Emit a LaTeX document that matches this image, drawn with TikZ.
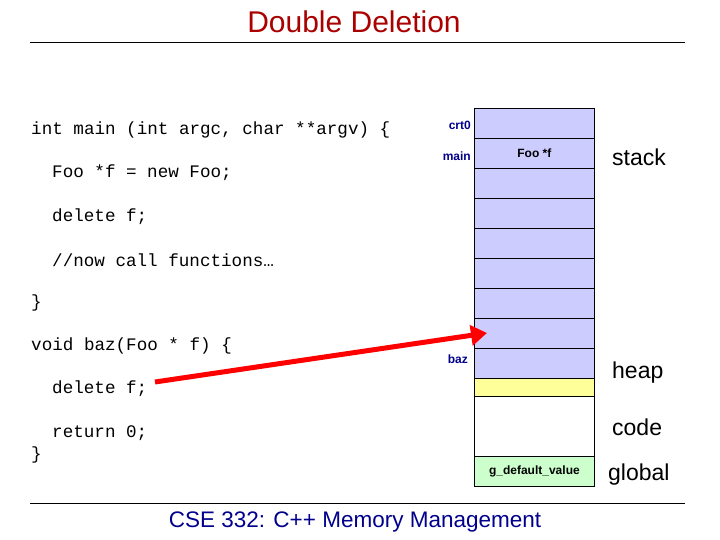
\documentclass[tikz,border=0pt]{standalone}
\usepackage{fontspec}
\usetikzlibrary{arrows.meta}
\setmainfont{Liberation Sans}
\newfontfamily\cour{Liberation Mono}
\definecolor{stk}{RGB}{204,204,255}
\definecolor{hp}{RGB}{255,255,153}
\definecolor{gl}{RGB}{204,255,204}
\definecolor{ttl}{RGB}{170,0,0}
\definecolor{lbl}{RGB}{0,0,140}
\tikzset{x=1pt,y=-1pt,
 cell/.style={draw=black,line width=0.8pt,minimum width=120pt,inner sep=0pt,anchor=north west,font=\fontsize{12}{14}\selectfont\bfseries},
 code/.style={anchor=west,inner sep=0pt,font=\cour\fontsize{17.6}{19}\selectfont},
 lab/.style={anchor=east,inner sep=0pt,text=lbl,font=\fontsize{12}{14}\selectfont\bfseries},
 seg/.style={anchor=west,inner sep=0pt,font=\fontsize{23}{25}\selectfont}}
\begin{document}
\begin{tikzpicture}
\useasboundingbox (0,0) rectangle (720,540);
\node[inner sep=0pt,text=ttl,font=\fontsize{30}{32}\selectfont] (title) at (354,22) {Double Deletion};
\draw[line width=0.8pt] (30,42) -- (685,42);
\draw[line width=0.8pt] (30,503) -- (685,503);
\node[inner sep=0pt,text=lbl,font=\fontsize{22.5}{24}\selectfont] (foot) at (355,522) {CSE 332: C++ Memory Management};
\foreach \i in {0,...,9}{\node[cell,fill=stk,minimum height=30pt] (r\i) at (474,{108+30*\i}) {};}
\node at (r1.center) [font=\fontsize{12}{14}\selectfont\bfseries] {Foo *f};
\node[cell,fill=hp,minimum height=18pt] (heap) at (474,378) {};
\node[cell,fill=white,minimum height=60pt] (codeseg) at (474,396) {};
\node[cell,fill=gl,minimum height=30pt] (glob) at (474,456) {g\_default\_value};
\node[lab] (l0) at (471,125) {crt0};
\node[lab] (l1) at (471,156) {main};
\node[lab] (l2) at (468,359) {baz};
\node[seg] (s1) at (612,157) {stack};
\node[seg] (s2) at (612,373) {heap};
\node[seg] (s3) at (612,427) {code};
\node[seg] (s4) at (608,475) {global};
\node[code] (c1) at (31,130) {int main (int argc, char **argv) \{};
\node[code] (c2) at (52,173) {Foo *f = new Foo;};
\node[code] (c3) at (52,217) {delete f;};
\node[code] (c4) at (52,260) {//now call functions…};
\node[code] (c5) at (31,303) {\}};
\node[code] (c6) at (31,346) {void baz(Foo * f) \{};
\node[code] (c7) at (52,389) {delete f;};
\node[code] (c8) at (52,433) {return 0;};
\node[code] (c9) at (31,455) {\}};
\coordinate (a0) at (155,382);
\coordinate (a1) at (487,333);
\draw[red,line width=5pt,-{Triangle[length=16pt,width=20pt]}] (a0) -- (a1);
\end{tikzpicture}
\end{document}
